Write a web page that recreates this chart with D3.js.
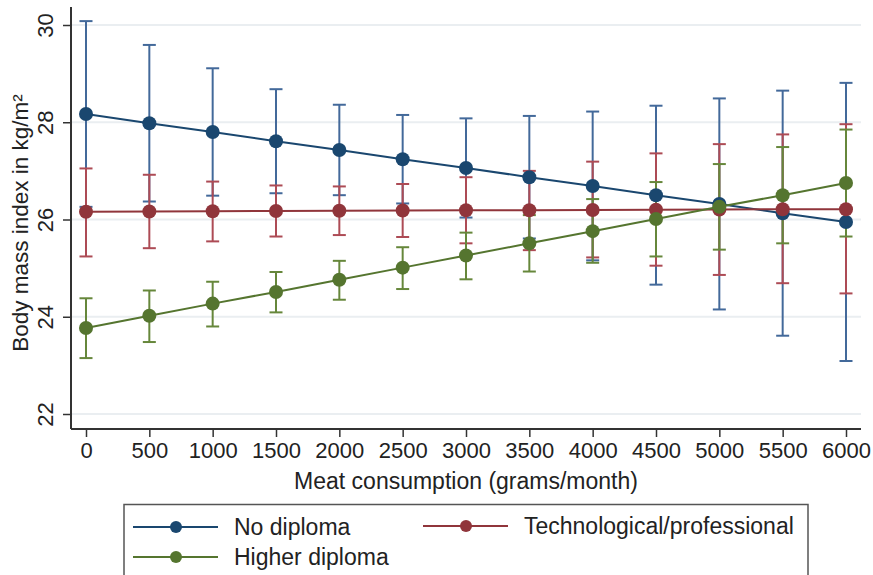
<!DOCTYPE html>
<html>
<head>
<meta charset="utf-8">
<script src="https://cdn.jsdelivr.net/npm/d3@7"></script>
<style>
  body { margin: 0; background: #fff; }
  svg { display: block; font-family: "Liberation Sans", Arial, sans-serif; }
</style>
</head>
<body>
<svg id="chart" width="873" height="575"></svg>
<script>
// meat consumption, grams/month
var meat = [0, 500, 1000, 1500, 2000, 2500, 3000, 3500, 4000, 4500, 5000, 5500, 6000];

// predicted BMI with 95% CI
var noDiplomaMean = [28.17, 27.98, 27.80, 27.61, 27.43, 27.24, 27.06, 26.87, 26.69, 26.50, 26.32, 26.13, 25.95];
var noDiplomaLow  = [26.26, 26.37, 26.49, 26.54, 26.50, 26.33, 26.04, 25.61, 25.16, 24.66, 24.15, 23.61, 23.09];
var noDiplomaHigh = [30.08, 29.59, 29.11, 28.68, 28.36, 28.15, 28.08, 28.13, 28.22, 28.34, 28.49, 28.65, 28.81];

var techMean = [26.16, 26.165, 26.17, 26.175, 26.18, 26.185, 26.19, 26.19, 26.195, 26.20, 26.205, 26.21, 26.21];
var techLow  = [25.24, 25.41, 25.55, 25.65, 25.68, 25.64, 25.51, 25.37, 25.22, 25.05, 24.86, 24.69, 24.48];
var techHigh = [27.05, 26.92, 26.78, 26.70, 26.68, 26.73, 26.87, 27.00, 27.19, 27.36, 27.55, 27.75, 27.96];

var higherMean = [23.77, 24.02, 24.27, 24.51, 24.76, 25.01, 25.26, 25.51, 25.76, 26.01, 26.26, 26.50, 26.75];
var higherLow  = [23.15, 23.48, 23.80, 24.09, 24.35, 24.57, 24.77, 24.93, 25.11, 25.24, 25.38, 25.51, 25.65];
var higherHigh = [24.38, 24.54, 24.72, 24.92, 25.15, 25.43, 25.73, 26.09, 26.42, 26.77, 27.14, 27.49, 27.85];

var xTicks = [0, 500, 1000, 1500, 2000, 2500, 3000, 3500, 4000, 4500, 5000, 5500, 6000];
var yTicks = [22, 24, 26, 28, 30];

var groups = [
  {name: "No diploma", color: "#1a476f", bar: "#43699a", mean: noDiplomaMean, low: noDiplomaLow, high: noDiplomaHigh},
  {name: "Technological/professional", color: "#90353b", bar: "#ad4b55", mean: techMean, low: techLow, high: techHigh},
  {name: "Higher diploma", color: "#55752f", bar: "#66873b", mean: higherMean, low: higherLow, high: higherHigh}
];

var svg = d3.select("#chart");

var x = d3.scaleLinear().domain([0, 6000]).range([86, 846]);
var y = d3.scaleLinear().domain([22, 30]).range([414, 25]);

var plotLeft = 71, plotRight = 861, plotBottom = 429, plotTop = 7;

// gridlines
svg.append("g")
  .selectAll("line")
  .data(yTicks)
  .enter()
  .append("line")
  .attr("x1", plotLeft + 1)
  .attr("x2", plotRight)
  .attr("y1", function(d) { return y(d); })
  .attr("y2", function(d) { return y(d); })
  .attr("stroke", "#eaeef1")
  .attr("stroke-width", 2);

// x axis
var xAxis = svg.append("g")
  .attr("transform", "translate(0," + plotBottom + ")")
  .call(d3.axisBottom(x).tickValues(xTicks).tickSize(8).tickPadding(5).tickFormat(d3.format("d")));
xAxis.select(".domain").attr("d", "M" + plotLeft + ",0H" + plotRight).attr("stroke", "#333").attr("stroke-width", 2);
xAxis.selectAll(".tick line").attr("stroke", "#333").attr("stroke-width", 1.5);
xAxis.selectAll(".tick text").attr("font-size", 22).attr("fill", "#222").attr("font-family", "Liberation Sans, Arial, sans-serif");

// y axis, labels turned like Stata does
var yAxis = svg.append("g")
  .attr("transform", "translate(" + plotLeft + ",0)")
  .call(d3.axisLeft(y).tickValues(yTicks).tickSize(8).tickFormat(d3.format("d")));
yAxis.select(".domain").attr("d", "M0," + plotTop + "V" + plotBottom).attr("stroke", "#333").attr("stroke-width", 2);
yAxis.selectAll(".tick line").attr("stroke", "#333").attr("stroke-width", 1.5);
yAxis.selectAll(".tick text")
  .attr("font-size", 22).attr("fill", "#222").attr("font-family", "Liberation Sans, Arial, sans-serif")
  .attr("x", null).attr("dy", null)
  .attr("text-anchor", "middle")
  .attr("transform", "translate(-18,0) rotate(-90)")
  .attr("dy", "0em");

// axis titles
svg.append("text")
  .attr("x", 466)
  .attr("y", 489)
  .attr("text-anchor", "middle")
  .attr("font-size", 23)
  .attr("fill", "#222")
  .text("Meat consumption (grams/month)");

svg.append("text")
  .attr("transform", "translate(28,223) rotate(-90)")
  .attr("text-anchor", "middle")
  .attr("font-size", 22.5)
  .attr("fill", "#222")
  .text("Body mass index in kg/m²");

// error bars
var capW = 6.5;
groups.forEach(function(g) {
  var bars = svg.append("g").attr("stroke", g.bar).attr("stroke-width", 2).attr("fill", "none");
  meat.forEach(function(m, i) {
    bars.append("line")
      .attr("x1", x(m)).attr("x2", x(m))
      .attr("y1", y(g.low[i])).attr("y2", y(g.high[i]));
    bars.append("line")
      .attr("x1", x(m) - capW).attr("x2", x(m) + capW)
      .attr("y1", y(g.low[i])).attr("y2", y(g.low[i]));
    bars.append("line")
      .attr("x1", x(m) - capW).attr("x2", x(m) + capW)
      .attr("y1", y(g.high[i])).attr("y2", y(g.high[i]));
  });
});

// connected lines + markers
var line = d3.line()
  .x(function(d) { return x(d[0]); })
  .y(function(d) { return y(d[1]); });

groups.forEach(function(g) {
  var pts = meat.map(function(m, i) { return [m, g.mean[i]]; });
  svg.append("path")
    .datum(pts)
    .attr("d", line)
    .attr("fill", "none")
    .attr("stroke", g.color)
    .attr("stroke-width", 2);
  svg.append("g")
    .selectAll("circle")
    .data(pts)
    .enter()
    .append("circle")
    .attr("cx", function(d) { return x(d[0]); })
    .attr("cy", function(d) { return y(d[1]); })
    .attr("r", 7)
    .attr("fill", g.color);
});

// legend
svg.append("rect")
  .attr("x", 124)
  .attr("y", 504.5)
  .attr("width", 684)
  .attr("height", 90)
  .attr("fill", "#fff")
  .attr("stroke", "#555")
  .attr("stroke-width", 1.5);

var legendPos = [
  {x: 133, y: 527},
  {x: 423, y: 526},
  {x: 133, y: 557}
];

groups.forEach(function(g, i) {
  var p = legendPos[i];
  var item = svg.append("g").attr("transform", "translate(" + p.x + "," + p.y + ")");
  item.append("line")
    .attr("x1", 0).attr("x2", 85)
    .attr("stroke", g.color).attr("stroke-width", 2);
  item.append("circle")
    .attr("cx", 43).attr("r", 6)
    .attr("fill", g.color);
  item.append("text")
    .attr("x", 101)
    .attr("dy", "0.35em")
    .attr("font-size", 23)
    .attr("fill", "#222")
    .text(g.name);
});
</script>
</body>
</html>
